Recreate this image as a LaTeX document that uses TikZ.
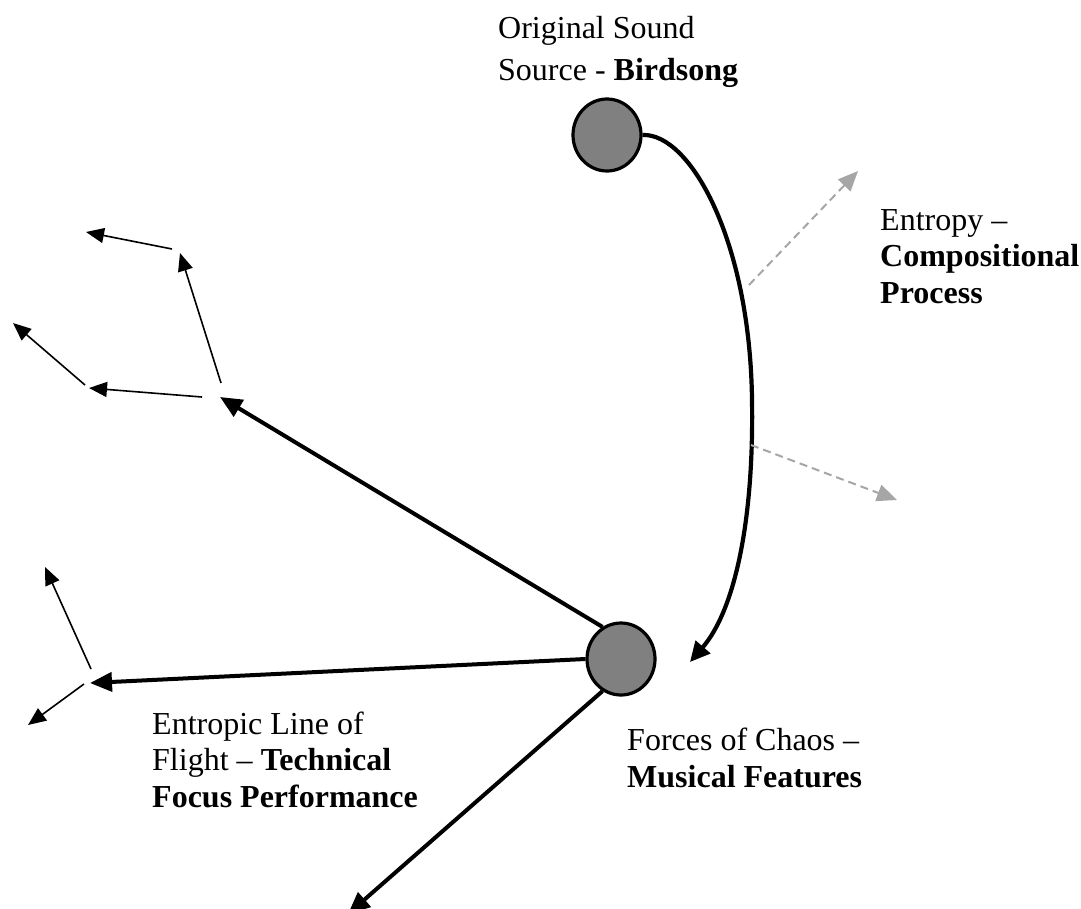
\documentclass[tikz,border=0pt]{standalone}
\usepackage{fontspec}
\setmainfont{Liberation Serif}
\usetikzlibrary{arrows.meta,shapes.geometric}

\definecolor{blobgray}{HTML}{808080}
\definecolor{dashgray}{HTML}{A6A6A6}

\begin{document}
\begin{tikzpicture}[x=1pt,y=-1pt,
  blob/.style={ellipse, draw=black, line width=3.2pt, fill=blobgray,
    minimum width=68pt, minimum height=72pt, inner sep=0pt},
  thickarrow/.style={line width=4pt, -{Triangle[length=22pt,width=19pt]}},
  curvearrow/.style={line width=4.2pt, -{Triangle[length=20pt,width=19pt]}},
  thinarrow/.style={line width=1.6pt, -{Triangle[length=18pt,width=15pt]}},
  dasharrow/.style={draw=dashgray, line width=2pt, dash pattern=on 8pt off 5pt,
    -{Triangle[length=20pt,width=17pt]}},
  lbl/.style={align=left, anchor=base west, inner sep=0pt,
    font=\fontsize{32}{36.5}\selectfont}
]
\useasboundingbox (0,0) rectangle (1081,908);

% the two grey nodes
\node[blob] (src) at (607,135) {};
\node[blob] (chaos) at (621,659) {};

% curved path from the sound source down to the forces of chaos
\coordinate (curveend) at (690,662);
\draw[curvearrow] (src.east) .. controls (690,133) and (750,240) .. (752,400)
  .. controls (754,520) and (735,610) .. (curveend);

% entropy offshoots (dashed)
\coordinate (e1s) at (749,285);
\coordinate (e1t) at (858,171);
\coordinate (e2s) at (751,445);
\coordinate (e2t) at (897,500);
\draw[dasharrow] (e1s) -- (e1t);
\draw[dasharrow] (e2s) -- (e2t);

% lines of flight out of the chaos node
\coordinate (t1) at (220,397);
\coordinate (t2) at (90,683);
\coordinate (t3) at (348,914);
\draw[thickarrow] (chaos.120) -- (t1);
\draw[thickarrow] (chaos.west) -- (t2);
\draw[thickarrow] (chaos.240) -- (t3);

% small branching arrows
\coordinate (a1s) at (221,383); \coordinate (a1t) at (180,253);
\coordinate (a2s) at (172,249); \coordinate (a2t) at (86,232);
\coordinate (a3s) at (202,397); \coordinate (a3t) at (89,388);
\coordinate (a4s) at (85,385);  \coordinate (a4t) at (13,323);
\coordinate (a5s) at (91,669);  \coordinate (a5t) at (45,567);
\coordinate (a6s) at (84,684);  \coordinate (a6t) at (28,725);
\draw[thinarrow] (a1s) -- (a1t);
\draw[thinarrow] (a2s) -- (a2t);
\draw[thinarrow] (a3s) -- (a3t);
\draw[thinarrow] (a4s) -- (a4t);
\draw[thinarrow] (a5s) -- (a5t);
\draw[thinarrow] (a6s) -- (a6t);

% labels (anchored at the baseline of their last line)
\node[lbl] (srclab) at (498,80) {Original Sound\\[5.5pt]Source - \textbf{Birdsong}};
\node[lbl] (entlab) at (880,303) {Entropy –\\\textbf{Compositional}\\\textbf{Process}};
\node[lbl] (flightlab) at (152,807) {Entropic Line of\\Flight – \textbf{Technical}\\\textbf{Focus Performance}};
\node[lbl] (chaoslab) at (627,787) {Forces of Chaos –\\\textbf{Musical Features}};
\end{tikzpicture}
\end{document}
